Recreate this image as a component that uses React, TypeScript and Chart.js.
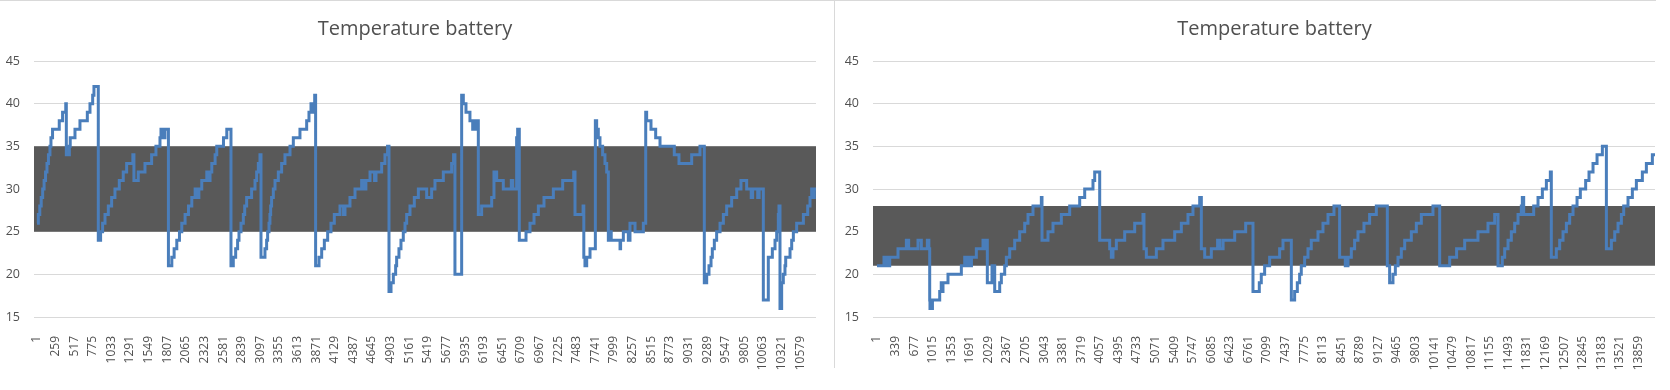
import React, { useEffect, useRef } from 'react';
import { Chart, registerables } from 'chart.js';

Chart.register(...registerables);

const TITLE = 'Temperature battery';
const yTickValues = [15, 20, 25, 30, 35, 40, 45];

// ---------- left chart ----------
const leftTickLabels = [1, 259, 517, 775, 1033, 1291, 1549, 1807, 2065, 2323, 2581, 2839, 3097, 3355, 3613, 3871, 4129, 4387, 4645, 4903, 5161, 5419, 5677, 5935, 6193, 6451, 6709, 6967, 7225, 7483, 7741, 7999, 8257, 8515, 8773, 9031, 9289, 9547, 9805, 10063, 10321, 10579];
const leftIndex = [1, 20, 40, 60, 80, 100, 120, 140, 160, 181, 195, 217, 310, 356, 400, 408, 450, 462, 528, 597, 699, 736, 773, 791, 851, 883, 911, 944, 990, 1036, 1082, 1142, 1197, 1244, 1330, 1345, 1405, 1498, 1590, 1650, 1706, 1720, 1760, 1775, 1823, 1870, 1902, 1939, 1976, 2008, 2054, 2101, 2147, 2193, 2230, 2245, 2285, 2355, 2390, 2400, 2424, 2470, 2493, 2586, 2632, 2690, 2722, 2755, 2782, 2801, 2829, 2861, 2880, 2907, 2976, 3023, 3046, 3069, 3092, 3106, 3161, 3184, 3198, 3217, 3230, 3240, 3253, 3277, 3300, 3346, 3392, 3438, 3508, 3554, 3646, 3739, 3771, 3799, 3815, 3830, 3850, 3863, 3910, 3947, 3984, 4030, 4076, 4122, 4201, 4250, 4270, 4339, 4409, 4501, 4540, 4560, 4617, 4680, 4700, 4778, 4824, 4860, 4880, 4908, 4940, 4972, 4986, 5018, 5046, 5078, 5102, 5125, 5171, 5231, 5287, 5402, 5471, 5517, 5633, 5748, 5775, 5794, 5887, 5910, 5947, 6002, 6040, 6060, 6080, 6095, 6118, 6164, 6303, 6335, 6372, 6464, 6575, 6595, 6649, 6663, 6686, 6779, 6834, 6890, 6950, 7028, 7158, 7287, 7440, 7458, 7570, 7580, 7596, 7620, 7666, 7740, 7758, 7781, 7804, 7841, 7873, 7897, 7920, 7940, 7960, 8082, 8090, 8128, 8197, 8220, 8290, 8405, 8438, 8451, 8511, 8576, 8636, 8834, 8899, 9075, 9190, 9250, 9283, 9315, 9343, 9361, 9389, 9421, 9468, 9514, 9560, 9629, 9699, 9758, 9837, 9900, 9920, 9990, 10010, 10068, 10137, 10193, 10230, 10253, 10276, 10285, 10299, 10322, 10345, 10368, 10378, 10438, 10461, 10484, 10530, 10623, 10683, 10715, 10738, 10760, 10775, 10798];
const leftTemp = [26, 27, 28, 29, 30, 31, 32, 33, 34, 35, 36, 37, 38, 39, 40, 34, 35, 36, 37, 38, 39, 40, 41, 42, 24, 25, 26, 27, 28, 29, 30, 31, 32, 33, 34, 31, 32, 33, 34, 35, 36, 37, 36, 37, 21, 22, 23, 24, 25, 26, 27, 28, 29, 30, 29, 30, 31, 32, 31, 32, 33, 34, 35, 36, 37, 21, 22, 23, 24, 25, 26, 27, 28, 29, 30, 31, 32, 33, 34, 22, 23, 24, 25, 26, 27, 28, 29, 30, 31, 32, 33, 34, 35, 36, 37, 38, 39, 40, 39, 40, 41, 21, 22, 23, 24, 25, 26, 27, 28, 27, 28, 29, 30, 31, 30, 31, 32, 31, 32, 33, 34, 35, 18, 19, 20, 21, 22, 23, 24, 25, 26, 27, 28, 29, 30, 29, 30, 31, 32, 33, 34, 20, 41, 40, 39, 38, 37, 38, 37, 38, 27, 28, 29, 32, 31, 30, 31, 30, 36, 37, 24, 25, 26, 27, 28, 29, 30, 31, 32, 27, 28, 22, 21, 22, 23, 38, 37, 36, 35, 34, 33, 32, 24, 25, 24, 23, 24, 25, 24, 26, 25, 26, 39, 38, 37, 36, 35, 34, 33, 34, 35, 19, 20, 21, 22, 23, 24, 25, 26, 27, 28, 29, 30, 31, 30, 29, 30, 29, 30, 17, 22, 23, 24, 25, 27, 28, 16, 19, 20, 21, 22, 23, 24, 25, 26, 27, 28, 29, 30, 29, 30, 30];
const leftBand = [25, 35];
const leftAxisBounds = [-40, 10798];

// ---------- right chart ----------
const rightTickLabels = [1, 339, 677, 1015, 1353, 1691, 2029, 2367, 2705, 3043, 3381, 3719, 4057, 4395, 4733, 5071, 5409, 5747, 6085, 6423, 6761, 7099, 7437, 7775, 8113, 8451, 8789, 9127, 9465, 9803, 10141, 10479, 10817, 11155, 11493, 11831, 12169, 12507, 12845, 13183, 13521, 13859];
const rightIndex = [1, 128, 150, 170, 190, 232, 383, 535, 577, 747, 808, 917, 945, 960, 965, 1010, 1142, 1170, 1180, 1202, 1293, 1536, 1597, 1640, 1660, 1700, 1720, 1809, 1930, 1960, 1980, 2009, 2094, 2143, 2234, 2264, 2325, 2355, 2416, 2507, 2598, 2689, 2749, 2840, 2992, 3004, 3113, 3204, 3356, 3508, 3690, 3781, 3932, 3963, 4054, 4236, 4266, 4296, 4357, 4509, 4691, 4842, 4860, 4903, 5085, 5206, 5419, 5540, 5661, 5752, 5874, 5904, 5965, 6086, 6200, 6240, 6300, 6511, 6711, 6844, 6959, 6995, 7056, 7147, 7329, 7390, 7542, 7602, 7651, 7693, 7723, 7784, 7845, 7905, 8027, 8118, 8209, 8318, 8421, 8524, 8573, 8634, 8694, 8755, 8864, 8967, 9089, 9289, 9331, 9392, 9435, 9483, 9544, 9605, 9726, 9817, 9908, 10120, 10242, 10424, 10550, 10697, 10939, 11121, 11243, 11304, 11382, 11425, 11486, 11546, 11607, 11668, 11728, 11746, 11771, 11953, 12032, 12111, 12184, 12256, 12274, 12365, 12426, 12487, 12548, 12608, 12669, 12742, 12802, 12899, 12960, 13033, 13106, 13203, 13276, 13367, 13428, 13488, 13549, 13591, 13670, 13749, 13822, 13931, 14004, 14113, 14161];
const rightTemp = [21, 22, 21, 22, 21, 22, 23, 24, 23, 24, 23, 24, 23, 17, 16, 17, 18, 19, 18, 19, 20, 21, 22, 21, 22, 21, 22, 23, 24, 23, 24, 19, 21, 18, 19, 20, 21, 22, 23, 24, 25, 26, 27, 28, 29, 24, 25, 26, 27, 28, 29, 30, 31, 32, 24, 23, 22, 23, 24, 25, 26, 27, 23, 22, 23, 24, 25, 26, 27, 28, 29, 23, 22, 23, 24, 23, 24, 25, 26, 18, 19, 20, 21, 22, 23, 24, 17, 18, 19, 20, 21, 22, 23, 24, 25, 26, 27, 28, 22, 21, 22, 23, 24, 25, 26, 27, 28, 21, 19, 20, 21, 22, 23, 24, 25, 26, 27, 28, 21, 22, 23, 24, 25, 26, 27, 21, 22, 23, 24, 25, 26, 27, 28, 29, 27, 28, 29, 30, 31, 32, 22, 23, 24, 25, 26, 27, 28, 29, 30, 31, 32, 33, 34, 35, 23, 24, 25, 26, 27, 28, 29, 30, 31, 32, 33, 34, 34];
const rightBand = [21, 28];
const rightAxisBounds = [-72, 14161];

const TEXT_COLOR = '#505050';
const TITLE_COLOR = '#505050';
const GRID_COLOR = '#d9d9d9';
const LINE_COLOR = '#4a7ebb';
const BAND_COLOR = '#595959';
const FONT = '"Open Sans", "DejaVu Sans", sans-serif';

const excelTitle = {
  id: 'excelTitle',
  afterDraw(chart: any, _args: any, opts: any) {
    const { ctx } = chart;
    ctx.save();
    ctx.font = `20px ${FONT}`;
    ctx.fillStyle = TITLE_COLOR;
    ctx.textAlign = 'center';
    ctx.textBaseline = 'alphabetic';
    ctx.fillText(opts.text, opts.x, opts.y);
    ctx.restore();
  },
};

type Props = {
  width: number;
  height: number;
  idx: number[];
  temp: number[];
  band: number[];
  bounds: number[];
  tickLabels: number[];
  yAxisWidth: number;
  padRight: number;
  titleX: number;
};

function TempChart(p: Props) {
  const ref = useRef<HTMLCanvasElement>(null);
  useEffect(() => {
    const canvas = ref.current!;
    const line = p.idx.map((x, i) => ({ x, y: p.temp[i] }));
    const bandTop = [
      { x: p.bounds[0], y: p.band[1] },
      { x: p.bounds[1], y: p.band[1] },
    ];
    const chart = new Chart(canvas, {
      type: 'line',
      data: {
        datasets: [
          {
            data: line,
            borderColor: LINE_COLOR,
            borderWidth: 3,
            pointRadius: 0,
            stepped: true,
            fill: false,
            order: 0,
          } as any,
          {
            data: bandTop,
            borderColor: 'rgba(0,0,0,0)',
            borderWidth: 0,
            pointRadius: 0,
            fill: { value: p.band[0] },
            backgroundColor: BAND_COLOR,
            order: 1,
          } as any,
        ],
      },
      options: {
        responsive: false,
        animation: false,
        devicePixelRatio: 1,
        events: [],
        layout: { padding: { top: 61, right: p.padRight, left: 0, bottom: 0 } },
        plugins: {
          legend: { display: false },
          tooltip: { enabled: false },
          title: { display: false },
          excelTitle: { text: TITLE, x: p.titleX, y: 34.5 },
        } as any,
        scales: {
          x: {
            type: 'linear',
            min: p.bounds[0],
            max: p.bounds[1],
            afterBuildTicks: (s: any) => {
              s.ticks = p.tickLabels.map((v) => ({ value: v }));
            },
            afterFit: (s: any) => {
              s.height = 73;
            },
            grid: { display: false },
            border: { display: false },
            ticks: {
              autoSkip: false,
              maxRotation: 90,
              minRotation: 90,
              padding: 11,
              color: TEXT_COLOR,
              font: { size: 12, family: FONT },
              callback: (v: any) => String(v),
            },
          },
          y: {
            min: 15,
            max: 45,
            afterBuildTicks: (s: any) => {
              s.ticks = yTickValues.map((v) => ({ value: v }));
            },
            afterFit: (s: any) => {
              s.width = p.yAxisWidth;
            },
            grid: { color: GRID_COLOR, drawTicks: false, lineWidth: 1 },
            border: { display: false },
            ticks: {
              padding: 14,
              color: TEXT_COLOR,
              font: { size: 12.5, family: FONT },
              callback: (v: any) => String(v),
            },
          },
        },
      } as any,
      plugins: [excelTitle],
    });
    return () => chart.destroy();
  }, []);
  return (
    <canvas
      ref={ref}
      width={p.width}
      height={p.height}
      style={{ display: 'block', width: p.width, height: p.height }}
    />
  );
}

export default function App() {
  return (
    <div
      style={{
        position: 'fixed',
        left: 0,
        top: 0,
        width: 1670,
        height: 390,
        background: '#ffffff',
        overflow: 'hidden',
      }}
    >
      <div style={{ position: 'absolute', left: 0, top: 0, width: 834, height: 390, overflow: 'hidden' }}>
        <TempChart
          width={834}
          height={390}
          idx={leftIndex}
          temp={leftTemp}
          band={leftBand}
          bounds={leftAxisBounds}
          tickLabels={leftTickLabels}
          yAxisWidth={34}
          padRight={18}
          titleX={415}
        />
      </div>
      <div style={{ position: 'absolute', left: 835, top: 0, width: 835, height: 390, overflow: 'hidden' }}>
        <TempChart
          width={835}
          height={390}
          idx={rightIndex}
          temp={rightTemp}
          band={rightBand}
          bounds={rightAxisBounds}
          tickLabels={rightTickLabels}
          yAxisWidth={38}
          padRight={15}
          titleX={439.5}
        />
      </div>
      <div style={{ position: 'absolute', left: 0, top: 0, width: 1656, height: 1, background: GRID_COLOR }} />
      <div style={{ position: 'absolute', left: 834, top: 0, width: 1, height: 368, background: GRID_COLOR }} />
    </div>
  );
}
